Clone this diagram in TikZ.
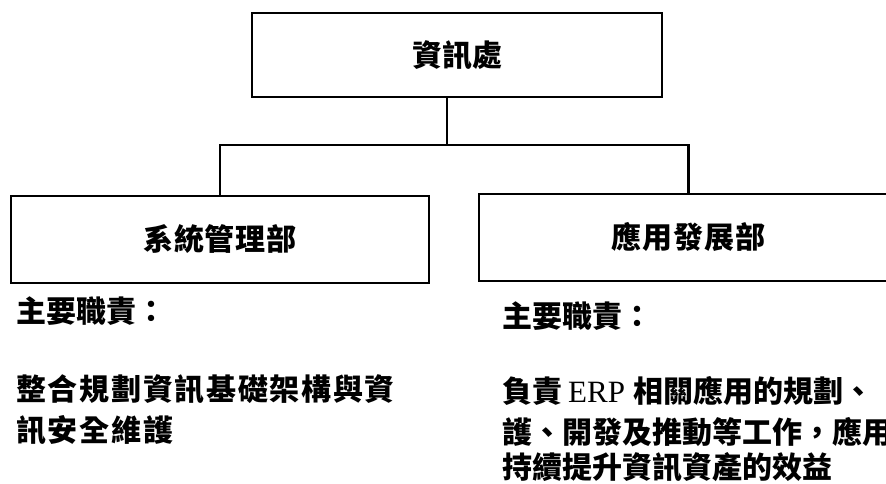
\documentclass[tikz,border=0pt]{standalone}
\usepackage{fontspec}
\newfontfamily\cjk{Noto Sans CJK TC}
\newfontfamily\cjkwide[LetterSpace=5.7]{Noto Sans CJK TC}
\newfontfamily\cjkmid[LetterSpace=2.7]{Noto Sans CJK TC}
\newfontfamily\latserif{Liberation Serif}
\begin{document}
\begin{tikzpicture}[x=1pt,y=-1pt,
  box/.style={draw=black, line width=2.4pt, inner sep=0pt},
  boxlabel/.style={font=\cjkmid\bfseries\fontsize{30}{36}\selectfont},
  txt/.style={anchor=west, inner sep=0pt, font=\cjk\bfseries\fontsize{30}{36}\selectfont},
  widetxt/.style={anchor=west, inner sep=0pt, font=\cjkwide\bfseries\fontsize{30}{36}\selectfont},
  conn/.style={draw=black, line width=2.4pt}]
\useasboundingbox (0,0) rectangle (886,483);
\clip (0,0) rectangle (886,483);
\fill[white] (0,0) rectangle (886,483);
% boxes
\node[box, minimum width=410pt, minimum height=84pt, font=\cjk\bfseries\fontsize{30}{36}\selectfont] (top) at (457,55) {資訊處};
\node[box, boxlabel, minimum width=418pt, minimum height=87pt] (sys) at (220,239.5) {系統管理部};
\node[box, boxlabel, minimum width=419pt, minimum height=87pt] (app) at (688.5,237.5) {應用發展部};
% connectors
\coordinate (j) at (447,145);
\draw[conn] (j |- top.south) -- (j);
\draw[conn] (sys.north) -- (sys.north |- j) -- (app.north |- j) -- (app.north);
% left texts
\node[txt] (sysh) at (16,311) {主要職責：};
\node[widetxt] (sys1) at (16,389) {整合規劃資訊基礎架構與資};
\node[widetxt] (sys2) at (16,430) {訊安全維護};
% right texts
\node[txt] (apph) at (502,316) {主要職責：};
\node[txt] (app1) at (502,391) {負責\hspace{6pt}{\latserif\mdseries\fontsize{31}{36}\selectfont ERP}\hspace{8pt}相關應用的規劃、};
\node[txt] (app2) at (502,432) {護、開發及推動等工作，應用};
\node[txt] (app3) at (502,467) {持續提升資訊資產的效益};
\end{tikzpicture}
\end{document}
